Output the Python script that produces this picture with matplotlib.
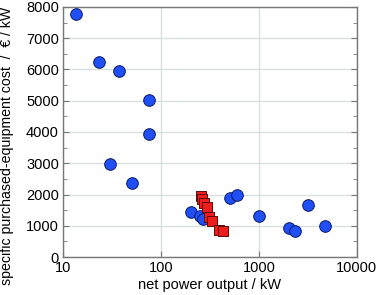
import matplotlib

matplotlib.use("Agg")
import matplotlib.pyplot as plt
from matplotlib.ticker import FixedLocator, MultipleLocator, NullLocator

plt.rcParams["font.family"] = ["Liberation Sans", "DejaVu Sans"]

# --- data --------------------------------------------------------------
circle_kw = [13.6, 23.3, 37.3, 75.5, 75.5, 30.2, 50.6, 202, 250, 268,
             506, 592, 1007, 2024, 2330, 3186, 4713]
circle_cost = [7780, 6240, 5950, 5020, 3940, 2980, 2370, 1440, 1310, 1220,
               1890, 1980, 1300, 920, 840, 1660, 1000]

square_kw = [254, 265, 276, 297, 311, 329, 394, 426]
square_cost = [1950, 1850, 1740, 1610, 1290, 1160, 860, 840]

x_ticks = [10, 100, 1000, 10000]
x_labels = ["10", "100", "1000", "10000"]
y_ticks = [0, 1000, 2000, 3000, 4000, 5000, 6000, 7000, 8000]

fig = plt.figure(figsize=(3.78, 2.95), dpi=100)
ax = fig.add_axes([0.1667, 0.1288, 0.7773, 0.8475])

ax.scatter(circle_kw, circle_cost, s=70, marker="o", color="#1f4ff5",
           edgecolor="#0a1a66", linewidth=0.7, zorder=3)
ax.scatter(square_kw, square_cost, s=55, marker="s", color="#ee1c1c",
           edgecolor="#5a0a0a", linewidth=0.7, zorder=4)

ax.set_xscale("log")
ax.set_xlim(10, 10000)
ax.set_ylim(0, 8000)
ax.xaxis.set_major_locator(FixedLocator(x_ticks))
ax.set_xticklabels(x_labels)
ax.xaxis.set_minor_locator(NullLocator())
ax.yaxis.set_major_locator(FixedLocator(y_ticks))
ax.yaxis.set_minor_locator(MultipleLocator(500))

ax.grid(True, which="major", color="#d8e0e0", linewidth=1.0, zorder=0)
ax.tick_params(which="both", direction="in", right=True, top=False,
               labelsize=10.5, color="#777777", pad=3)
ax.tick_params(which="major", length=4)
ax.tick_params(which="minor", length=3)
for sp in ax.spines.values():
    sp.set_color("#777777")
    sp.set_linewidth(1.0)

ax.set_xlabel("net power output / kW", fontsize=10.5, labelpad=2)
ax.set_ylabel("specific purchased-equipment cost  /  \u20ac / kW",
              fontsize=10.2)
ax.yaxis.set_label_coords(-0.168, 0.445)

fig.savefig("out.png", dpi=100)
